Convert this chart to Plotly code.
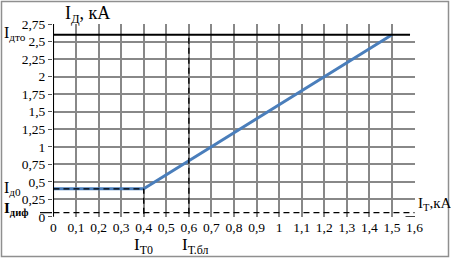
import plotly.graph_objects as go

# characteristic (I_T, I_D)
x_char = [0, 0.4, 1.5]
y_char = [0.4, 0.4, 2.6]
I_dto = 2.6
I_d0 = 0.4
I_T0 = 0.4
I_Tbl = 0.6
I_dif = 0.06
x_end = 1.58

x_ticks = [round(i * 0.1, 1) for i in range(17)]
x_labels = ["0", "0,1", "0,2", "0,3", "0,4", "0,5", "0,6", "0,7", "0,8", "0,9",
            "1", "1,1", "1,2", "1,3", "1,4", "1,5", "1,6"]
y_ticks = [i * 0.25 for i in range(12)]
y_labels = ["0", "0,25", "0,5", "0,75", "1", "1,25", "1,5", "1,75", "2", "2,25", "2,5", "2,75"]

FONT = "Liberation Serif"
W, H = 451, 259
ML, MR, MT, MB = 53, 36, 24, 42
PW, PH = W - ML - MR, H - MT - MB


def px_x(px):
    return (px - ML) / PW


def px_y(py):
    return (H - MB - py) / PH


fig = go.Figure()

# blue characteristic
fig.add_trace(go.Scatter(x=x_char, y=y_char, mode="lines",
                         line=dict(color="#4A7EBB", width=3), hoverinfo="skip"))
# I_dto line
fig.add_trace(go.Scatter(x=[-0.025, x_end], y=[I_dto, I_dto], mode="lines",
                         line=dict(color="black", width=2), hoverinfo="skip"))
# dashed lines
dash = dict(color="black", width=1.3, dash="6px,4px")
fig.add_trace(go.Scatter(x=[0, I_T0], y=[I_d0, I_d0], mode="lines", line=dash, hoverinfo="skip"))
fig.add_trace(go.Scatter(x=[I_T0, I_T0], y=[-0.1, I_d0], mode="lines", line=dash, hoverinfo="skip"))
fig.add_trace(go.Scatter(x=[I_Tbl, I_Tbl], y=[-0.1, I_dto], mode="lines", line=dash, hoverinfo="skip"))
fig.add_trace(go.Scatter(x=[0, 1.6], y=[I_dif, I_dif], mode="lines", line=dash, hoverinfo="skip"))
fig.add_trace(go.Scatter(x=[-0.006], y=[I_dif], mode="markers",
                         marker=dict(color="black", size=4), hoverinfo="skip"))
# y axis line
fig.add_trace(go.Scatter(x=[0, 0], y=[0, 2.9], mode="lines",
                         line=dict(color="black", width=1.2), hoverinfo="skip"))
# x axis tail
fig.add_trace(go.Scatter(x=[1.56, 1.64], y=[0, 0], mode="lines",
                         line=dict(color="black", width=1.2), hoverinfo="skip"))
# arrow heads
fig.add_trace(go.Scatter(x=[0], y=[2.96], mode="markers",
                         marker=dict(symbol="triangle-up", color="black", size=7), hoverinfo="skip"))
fig.add_trace(go.Scatter(x=[1.665], y=[0], mode="markers",
                         marker=dict(symbol="triangle-right", color="black", size=7), hoverinfo="skip"))

fig.update_traces(cliponaxis=False)

annotations = [
    dict(x=px_x(63), y=px_y(14), xref="paper", yref="paper", xanchor="left", yanchor="middle",
         text="I<sub>Д</sub>, кА", showarrow=False, font=dict(family=FONT, size=18, color="black")),
    dict(x=px_x(2), y=px_y(33), xref="paper", yref="paper", xanchor="left", yanchor="middle",
         text="I<sub>дто</sub>", showarrow=False, font=dict(family=FONT, size=16, color="black")),
    dict(x=px_x(2), y=px_y(188), xref="paper", yref="paper", xanchor="left", yanchor="middle",
         text="I<sub>д0</sub>", showarrow=False, font=dict(family=FONT, size=16, color="black")),
    dict(x=px_x(2), y=px_y(209), xref="paper", yref="paper", xanchor="left", yanchor="middle",
         text="<b>I<sub>диф</sub></b>", showarrow=False, font=dict(family=FONT, size=15, color="black")),
    dict(x=I_T0, y=px_y(246), xref="x", yref="paper", xanchor="center", yanchor="middle",
         text="I<sub>Т0</sub>", showarrow=False, font=dict(family=FONT, size=17, color="black")),
    dict(x=px_x(180), y=px_y(246), xref="paper", yref="paper", xanchor="left", yanchor="middle",
         text="I<sub>Т.бл</sub>", showarrow=False, font=dict(family=FONT, size=17, color="black")),
    dict(x=px_x(416), y=px_y(204), xref="paper", yref="paper", xanchor="left", yanchor="middle",
         text="I<sub>Т</sub>,кА", showarrow=False, font=dict(family=FONT, size=15, color="black")),
]

shapes = [
    # outer border
    dict(type="rect", xref="paper", yref="paper", x0=px_x(1.5), x1=px_x(448.5),
         y0=px_y(256.5), y1=px_y(1.5), line=dict(color="#8f8f8f", width=1.5)),
    # pointer from I_dif label
    dict(type="line", xref="paper", yref="y", x0=px_x(40), x1=px_x(52), y0=I_dif, y1=I_dif,
         line=dict(color="black", width=1.2)),
]

grid_col = "#888888"
fig.update_layout(
    width=W, height=H, margin=dict(l=ML, r=MR, t=MT, b=MB),
    paper_bgcolor="white", plot_bgcolor="white", showlegend=False,
    annotations=annotations, shapes=shapes,
    xaxis=dict(range=[-0.002, 1.602], tickvals=x_ticks, ticktext=x_labels,
               showgrid=True, gridcolor=grid_col, gridwidth=1.5, zeroline=False,
               showline=False, ticks="", tickfont=dict(family=FONT, size=13.5, color="black"),
               fixedrange=True),
    yaxis=dict(range=[-0.002, 2.752], tickvals=y_ticks, ticktext=y_labels,
               showgrid=True, gridcolor=grid_col, gridwidth=1.5, zeroline=False,
               showline=False, ticks="outside", ticklen=4, tickcolor="#555",
               tickfont=dict(family=FONT, size=13.5, color="black"), fixedrange=True),
)

fig.write_html("out.html")
